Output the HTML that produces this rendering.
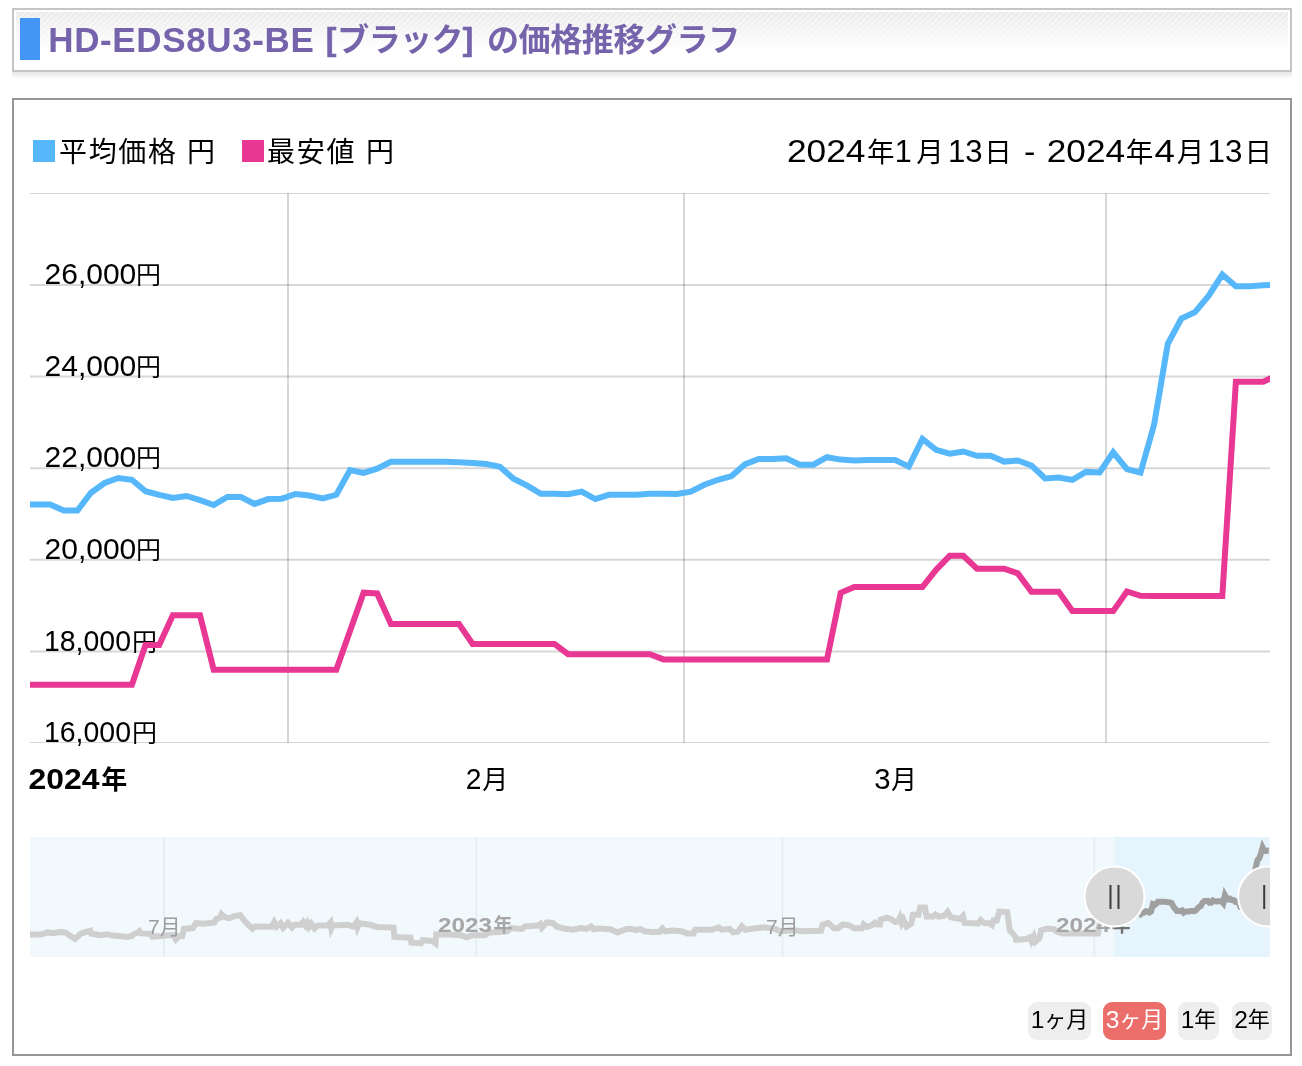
<!DOCTYPE html>
<html lang="ja"><head><meta charset="utf-8"><title>価格推移グラフ</title>
<style>
html,body{margin:0;padding:0;background:#fff}
body{width:1302px;height:1066px;position:relative;overflow:hidden;font-family:"Liberation Sans","Noto Sans CJK JP",sans-serif}
.hd{position:absolute;left:12px;top:8px;width:1276px;height:60px;border:2px solid #c6c6c6;background:#fff;box-sizing:content-box}
.hd .bg{position:absolute;left:2px;top:2px;right:2px;bottom:2px;background:linear-gradient(to bottom,rgba(255,255,255,0) 0,rgba(255,255,255,1) 68%),repeating-linear-gradient(-45deg,#e9e9e9 0,#ebebeb 1.6px,#f3f3f3 2.4px,#f3f3f3 3.6px,#e9e9e9 4.243px)}
.hd .bar{position:absolute;left:6px;top:8px;width:20px;height:42px;background:#4496f6}
.hd h1{position:absolute;left:0;top:0;margin:0;font-size:32px;line-height:60px;font-weight:bold;color:#7563ab;white-space:nowrap}
.hd h1 span{position:absolute;top:0;white-space:nowrap}
.hd h1 .a{left:34.3px;font-size:35px;top:0.3px;letter-spacing:0.62px}
.hd h1 .b{left:314px;letter-spacing:-0.6px}
.hd h1 .b i{font-style:normal;font-size:31px;position:relative;top:-1px;-webkit-text-stroke:0.7px #7563ab}
.hd h1 .b i:first-child{margin-left:-2px;margin-right:1.5px}
.hd h1 .c{left:473px;letter-spacing:-0.4px}
.sh{position:absolute;left:12px;top:72px;width:1280px;height:7px;background:linear-gradient(to bottom,#e6e6e6,#fff)}
.box{position:absolute;left:12px;top:98px;width:1276px;height:954px;border:2px solid #959595}
.btn{position:absolute;top:1002px;height:38px;line-height:36px;border-radius:9px;background:#eee;color:#000;font-size:22px;text-align:center;white-space:nowrap}
.btn.on{background:#ec6e6b;color:#fff}
.btn b{font-weight:normal;font-size:24.5px;line-height:0;position:relative;top:0.5px}
</style></head><body>
<div id="wrap" style="position:absolute;left:0;top:0;width:1302px;height:1066px;will-change:transform">
<div class="hd"><div class="bg"></div><div class="bar"></div><h1><span class="a">HD-EDS8U3-BE </span><span class="b"><i>[</i>ブラック<i>]</i> </span><span class="c">の価格推移グラフ</span></h1></div>
<div class="sh"></div>
<div class="box"></div>
<svg width="1302" height="1066" viewBox="0 0 1302 1066" style="position:absolute;left:0;top:0" font-family='"Liberation Sans","Noto Sans CJK JP",sans-serif'><defs><clipPath id="cp"><rect x="30" y="180" width="1240" height="580"/></clipPath><clipPath id="cg"><rect x="30" y="193" width="1240" height="550"/></clipPath><clipPath id="cn"><rect x="30" y="837" width="1240" height="120"/></clipPath><clipPath id="cu"><rect x="30" y="837" width="1084" height="120"/></clipPath><clipPath id="cs"><rect x="1114" y="837" width="156" height="120"/></clipPath></defs><g stroke="#000" stroke-opacity="0.155" stroke-width="2" clip-path="url(#cg)"><line x1="30" y1="193" x2="1270" y2="193"/><line x1="30" y1="285" x2="1270" y2="285"/><line x1="30" y1="376.6" x2="1270" y2="376.6"/><line x1="30" y1="468.2" x2="1270" y2="468.2"/><line x1="30" y1="559.8" x2="1270" y2="559.8"/><line x1="30" y1="651.4" x2="1270" y2="651.4"/><line x1="30" y1="743" x2="1270" y2="743"/><line x1="288" y1="193" x2="288" y2="743"/><line x1="684" y1="193" x2="684" y2="743"/><line x1="1106" y1="193" x2="1106" y2="743"/></g><text y="284.2" font-weight="normal" fill="#000"><tspan x="44.5" font-size="29.5" textLength="91.8" lengthAdjust="spacingAndGlyphs">26,000</tspan><tspan x="136.0" font-size="25">円</tspan></text><text y="375.8" font-weight="normal" fill="#000"><tspan x="44.5" font-size="29.5" textLength="91.8" lengthAdjust="spacingAndGlyphs">24,000</tspan><tspan x="136.0" font-size="25">円</tspan></text><text y="467.4" font-weight="normal" fill="#000"><tspan x="44.5" font-size="29.5" textLength="91.8" lengthAdjust="spacingAndGlyphs">22,000</tspan><tspan x="136.0" font-size="25">円</tspan></text><text y="559.0" font-weight="normal" fill="#000"><tspan x="44.5" font-size="29.5" textLength="91.8" lengthAdjust="spacingAndGlyphs">20,000</tspan><tspan x="136.0" font-size="25">円</tspan></text><text y="650.6" font-weight="normal" fill="#000"><tspan x="43.9" font-size="29.5" textLength="87.1" lengthAdjust="spacingAndGlyphs">18,000</tspan><tspan x="132.0" font-size="25">円</tspan></text><text y="742.2" font-weight="normal" fill="#000"><tspan x="43.9" font-size="29.5" textLength="87.1" lengthAdjust="spacingAndGlyphs">16,000</tspan><tspan x="132.0" font-size="25">円</tspan></text><g clip-path="url(#cp)" fill="none" stroke-width="6" stroke-linejoin="miter"><polyline stroke="#56b8fa" points="22.9,504.5 36.5,504.5 50.1,504.5 63.7,510.5 77.4,510.5 91.0,492.7 104.6,483.0 118.3,478.0 131.9,479.8 145.5,491.2 159.2,494.8 172.8,498.0 186.4,496.0 200.0,500.2 213.7,505.0 227.3,497.0 240.9,497.0 254.6,503.9 268.2,499.1 281.8,498.7 295.5,494.0 309.1,495.5 322.7,498.5 336.3,494.8 350.0,470.1 363.6,472.9 377.2,468.6 390.9,461.7 404.5,461.7 418.1,461.7 431.8,461.7 445.4,461.7 459.0,462.2 472.6,463.0 486.3,464.1 499.9,466.7 513.5,478.7 527.2,485.6 540.8,493.8 554.4,493.8 568.1,494.2 581.7,491.6 595.3,499.1 608.9,494.8 622.6,494.8 636.2,494.8 649.8,493.8 663.5,493.8 677.1,494.0 690.7,491.6 704.4,484.7 718.0,479.8 731.6,476.1 745.2,464.1 758.9,458.9 772.5,458.9 786.1,458.3 799.8,464.7 813.4,464.7 827.0,457.2 840.7,459.6 854.3,460.5 867.9,460.1 881.5,460.1 895.2,460.1 908.8,466.6 922.4,439.0 936.1,449.8 949.7,453.7 963.3,451.5 977.0,455.8 990.6,455.8 1004.2,461.6 1017.8,460.5 1031.5,465.5 1045.1,478.4 1058.7,477.5 1072.4,479.9 1086.0,471.9 1099.6,472.5 1113.2,452.3 1126.9,469.2 1140.5,472.7 1154.1,424.7 1167.8,343.8 1181.4,318.5 1195.0,312.1 1208.7,295.7 1222.3,274.6 1235.9,286.3 1249.5,286.3 1263.2,285.2 1276.8,284.7"/><polyline stroke="#e83893" points="22.9,684.7 36.5,684.7 50.1,684.7 63.7,684.7 77.4,684.7 91.0,684.7 104.6,684.7 118.3,684.7 131.9,684.7 145.5,645.0 159.2,645.0 172.8,615.3 186.4,615.3 200.0,615.3 213.7,669.7 227.3,669.7 240.9,669.7 254.6,669.7 268.2,669.7 281.8,669.7 295.5,669.7 309.1,669.7 322.7,669.7 336.3,669.7 350.0,631.0 363.6,592.7 377.2,593.5 390.9,624.1 404.5,624.1 418.1,624.1 431.8,624.1 445.4,624.1 459.0,624.1 472.6,643.9 486.3,643.9 499.9,643.9 513.5,643.9 527.2,643.9 540.8,643.9 554.4,643.9 568.1,654.2 581.7,654.2 595.3,654.2 608.9,654.2 622.6,654.2 636.2,654.2 649.8,654.2 663.5,659.4 677.1,659.4 690.7,659.4 704.4,659.4 718.0,659.4 731.6,659.4 745.2,659.4 758.9,659.4 772.5,659.4 786.1,659.4 799.8,659.4 813.4,659.4 827.0,659.4 840.7,592.8 854.3,587.0 867.9,587.0 881.5,587.0 895.2,587.0 908.8,587.0 922.4,587.0 936.1,569.8 949.7,555.8 963.3,555.8 977.0,568.7 990.6,568.7 1004.2,568.7 1017.8,573.4 1031.5,591.7 1045.1,591.7 1058.7,591.7 1072.4,611.1 1086.0,611.1 1099.6,611.1 1113.2,611.1 1126.9,591.5 1140.5,595.8 1154.1,596.1 1167.8,596.1 1181.4,596.1 1195.0,596.1 1208.7,596.1 1222.3,596.1 1235.9,381.8 1249.5,381.8 1263.2,381.8 1276.8,375.4"/></g><rect x="33" y="140" width="22" height="22" fill="#56b8fa"/><text x="59" y="162" font-size="28" fill="#000" textLength="156" lengthAdjust="spacing">平均価格 円</text><rect x="242" y="140" width="22" height="22" fill="#e83893"/><text x="267" y="162" font-size="28" fill="#000" textLength="127" lengthAdjust="spacing">最安値 円</text><text y="162" font-weight="normal" fill="#000"><tspan x="786.9" font-size="30.5" textLength="78.6" lengthAdjust="spacingAndGlyphs">2024</tspan><tspan x="866.9" font-size="27.5">年</tspan><tspan x="894.8" font-size="30.5">1</tspan><tspan x="916.3" font-size="27.5">月</tspan><tspan x="947.9" font-size="30.5" textLength="34.7" lengthAdjust="spacingAndGlyphs">13</tspan><tspan x="984.3" font-size="27.5">日</tspan><tspan> </tspan><tspan x="1023.9" font-size="30.5" textLength="11.4" lengthAdjust="spacingAndGlyphs">-</tspan><tspan> </tspan><tspan x="1046.8" font-size="30.5" textLength="78.3" lengthAdjust="spacingAndGlyphs">2024</tspan><tspan x="1125.8" font-size="27.5">年</tspan><tspan x="1154.6" font-size="30.5" textLength="20.4" lengthAdjust="spacingAndGlyphs">4</tspan><tspan x="1176.7" font-size="27.5">月</tspan><tspan x="1207.6" font-size="30.5" textLength="34.9" lengthAdjust="spacingAndGlyphs">13</tspan><tspan x="1244.6" font-size="27.5">日</tspan></text><text y="789" font-weight="bold" fill="#000"><tspan x="28.4" font-size="29" textLength="71.0" lengthAdjust="spacingAndGlyphs">2024</tspan><tspan x="101.2" font-size="26">年</tspan></text><text y="789" font-weight="normal" fill="#000"><tspan x="465.7" font-size="29.5" textLength="15.7" lengthAdjust="spacingAndGlyphs">2</tspan><tspan x="482.2" font-size="26">月</tspan></text><text y="789" font-weight="normal" fill="#000"><tspan x="874.3" font-size="29.5" textLength="16.3" lengthAdjust="spacingAndGlyphs">3</tspan><tspan x="891.1" font-size="26">月</tspan></text><rect x="30" y="837" width="1240" height="120" fill="#f1f9fd"/><rect x="1114" y="837" width="156" height="120" fill="#e6f4fe"/><g stroke="#000" stroke-opacity="0.045" stroke-width="2"><line x1="164" y1="837" x2="164" y2="957"/><line x1="476.3" y1="837" x2="476.3" y2="957"/><line x1="782.5" y1="837" x2="782.5" y2="957"/><line x1="1094.3" y1="837" x2="1094.3" y2="957"/></g><g clip-path="url(#cu)"><polyline fill="none" stroke="#cfcfcf" stroke-width="6" stroke-linejoin="miter" points="28.0,934.5 37.9,934.5 41.1,934.5 47.6,932.4 54.0,933.2 59.7,932.1 65.3,932.4 69.4,935.3 75.0,938.9 80.6,933.7 85.5,932.1 90.3,930.8 91.1,933.7 96.0,934.5 100.8,935.3 107.3,934.2 112.1,935.6 118.5,936.1 126.6,936.9 131.5,936.1 134.7,933.7 137.9,932.9 139.5,931.2 141.5,933.4 150.0,933.7 152.4,936.6 162.1,936.1 168.5,935.3 173.4,935.3 175.8,939.4 179.0,936.1 182.3,936.1 183.9,928.9 192.7,928.1 196.0,923.2 204.0,923.7 214.5,922.4 216.1,919.2 220.2,917.6 221.5,914.3 224.2,916.8 229.0,918.4 234.7,916.0 240.3,915.2 244.4,920.8 249.2,925.6 252.4,928.7 254.8,926.5 271.8,926.8 274.2,922.1 276.6,926.5 280.6,923.2 283.1,927.8 287.9,922.9 291.9,927.3 294.4,924.8 300.8,924.8 303.2,921.9 305.6,925.6 307.3,922.9 308.9,926.9 311.3,923.7 314.5,928.5 317.7,925.6 328.2,925.3 330.5,922.6 331.4,928.4 333.0,925.0 337.9,925.3 347.6,924.8 353.2,926.5 356.5,922.4 357.6,927.5 359.7,923.2 370.2,924.8 376.6,926.9 393.5,927.6 394.4,936.9 410.5,937.7 411.3,942.6 421.0,943.4 422.6,940.2 432.3,941.0 435.5,943.4 436.3,934.5 449.2,934.5 461.3,935.3 466.9,937.3 471.8,935.3 484.7,935.3 489.5,932.4 502.4,931.8 507.3,931.3 510.5,928.1 521.8,928.9 525.0,926.5 537.9,925.6 540.3,924.0 541.9,927.7 546.8,922.4 553.2,923.2 556.5,926.5 563.7,928.5 573.4,929.7 580.6,928.1 586.3,928.9 591.1,926.5 593.5,929.2 598.4,928.5 610.5,929.2 617.7,932.4 626.6,928.9 631.5,928.9 636.3,930.2 640.3,928.9 644.4,931.3 652.4,932.1 659.7,931.8 662.4,928.4 665.3,931.3 673.4,930.5 681.5,931.3 687.1,933.4 693.5,933.4 695.2,929.7 712.1,929.7 718.5,927.3 721.8,929.7 729.8,928.9 733.1,932.4 737.9,931.8 741.9,926.2 745.2,929.7 754.0,928.5 763.7,927.3 775.0,928.9 779.8,931.3 794.4,930.2 802.4,931.3 821.0,930.8 822.6,924.8 828.2,922.9 833.9,928.2 837.9,928.2 842.7,924.5 849.2,925.3 854.0,928.2 862.1,928.2 863.7,924.5 866.9,926.9 871.8,925.3 875.0,922.6 877.4,924.5 879.8,924.5 880.6,919.5 887.1,917.6 891.9,919.7 895.2,922.1 898.3,921.3 900.0,917.5 901.7,923.0 903.4,919.7 906.5,926.6 911.3,923.5 912.9,914.8 918.5,914.8 920.2,907.6 925.0,907.6 926.6,916.5 933.1,916.5 935.5,914.5 938.7,916.5 944.4,915.6 947.6,911.9 950.8,917.3 959.7,918.9 962.9,916.0 964.5,922.9 978.2,923.4 980.6,920.1 983.9,922.9 989.5,923.4 991.9,925.1 993.5,920.5 996.8,920.5 999.2,911.6 1007.3,912.1 1009.7,930.2 1015.3,936.6 1016.1,939.8 1026.6,939.0 1029.8,937.4 1031.5,941.3 1033.9,936.6 1035.5,941.6 1039.5,938.2 1041.1,930.3 1047.6,928.5 1054.0,929.4 1057.3,931.8 1062.9,933.4 1098.0,933.4 1100.0,922.0 1108.0,916.0 1111.7,914.2 1113.4,914.2 1115.1,914.2 1116.8,916.0 1118.6,916.0 1120.3,910.8 1122.0,908.0 1123.7,906.5 1125.4,907.0 1127.1,910.4 1128.8,911.4 1130.6,912.3 1132.3,911.7 1134.0,913.0 1135.7,914.4 1137.4,912.0 1139.1,912.0 1140.8,914.0 1142.6,912.6 1144.3,912.5 1146.0,911.2 1147.7,911.6 1149.4,912.5 1151.1,911.4 1152.9,904.2 1154.6,905.0 1156.3,903.8 1158.0,901.8 1159.7,901.8 1161.4,901.8 1163.1,901.8 1164.9,901.8 1166.6,901.9 1168.3,902.2 1170.0,902.5 1171.7,903.2 1173.4,906.7 1175.1,908.7 1176.9,911.1 1178.6,911.1 1180.3,911.2 1182.0,910.5 1183.7,912.6 1185.4,911.4 1187.1,911.4 1188.9,911.4 1190.6,911.1 1192.3,911.1 1194.0,911.2 1195.7,910.5 1197.4,908.5 1199.1,907.0 1200.9,906.0 1202.6,902.5 1204.3,901.0 1206.0,901.0 1207.7,900.8 1209.4,902.7 1211.2,902.7 1212.9,900.5 1214.6,901.2 1216.3,901.5 1218.0,901.3 1219.7,901.3 1221.4,901.3 1223.2,903.2 1224.9,895.2 1226.6,898.3 1228.3,899.5 1230.0,898.8 1231.7,900.1 1233.4,900.1 1235.2,901.8 1236.9,901.5 1238.6,902.9 1240.3,906.6 1242.0,906.4 1243.7,907.1 1245.4,904.8 1247.2,904.9 1248.9,899.1 1250.6,904.0 1252.3,905.0 1254.0,891.1 1255.7,867.6 1257.4,860.3 1259.2,858.4 1260.9,853.7 1262.6,847.5 1264.3,850.9 1266.0,850.9 1267.7,850.6 1268.9,850.6"/><text x="148" y="934" font-size="21" fill="#9d9d9d">7月</text><text x="766" y="934" font-size="21" fill="#9d9d9d">7月</text><text y="931.6" font-weight="bold" fill="#a6a6a6"><tspan x="438.0" font-size="20.3" textLength="54.0" lengthAdjust="spacingAndGlyphs">2023</tspan><tspan x="493.4" font-size="19">年</tspan></text><text y="931.6" font-weight="bold" fill="#a6a6a6"><tspan x="1056.1" font-size="20.3" textLength="54.0" lengthAdjust="spacingAndGlyphs">2024</tspan><tspan x="1111.5" font-size="19">年</tspan></text></g><g clip-path="url(#cs)"><polyline fill="none" stroke="#a0a0a0" stroke-width="6" stroke-linejoin="miter" points="28.0,934.5 37.9,934.5 41.1,934.5 47.6,932.4 54.0,933.2 59.7,932.1 65.3,932.4 69.4,935.3 75.0,938.9 80.6,933.7 85.5,932.1 90.3,930.8 91.1,933.7 96.0,934.5 100.8,935.3 107.3,934.2 112.1,935.6 118.5,936.1 126.6,936.9 131.5,936.1 134.7,933.7 137.9,932.9 139.5,931.2 141.5,933.4 150.0,933.7 152.4,936.6 162.1,936.1 168.5,935.3 173.4,935.3 175.8,939.4 179.0,936.1 182.3,936.1 183.9,928.9 192.7,928.1 196.0,923.2 204.0,923.7 214.5,922.4 216.1,919.2 220.2,917.6 221.5,914.3 224.2,916.8 229.0,918.4 234.7,916.0 240.3,915.2 244.4,920.8 249.2,925.6 252.4,928.7 254.8,926.5 271.8,926.8 274.2,922.1 276.6,926.5 280.6,923.2 283.1,927.8 287.9,922.9 291.9,927.3 294.4,924.8 300.8,924.8 303.2,921.9 305.6,925.6 307.3,922.9 308.9,926.9 311.3,923.7 314.5,928.5 317.7,925.6 328.2,925.3 330.5,922.6 331.4,928.4 333.0,925.0 337.9,925.3 347.6,924.8 353.2,926.5 356.5,922.4 357.6,927.5 359.7,923.2 370.2,924.8 376.6,926.9 393.5,927.6 394.4,936.9 410.5,937.7 411.3,942.6 421.0,943.4 422.6,940.2 432.3,941.0 435.5,943.4 436.3,934.5 449.2,934.5 461.3,935.3 466.9,937.3 471.8,935.3 484.7,935.3 489.5,932.4 502.4,931.8 507.3,931.3 510.5,928.1 521.8,928.9 525.0,926.5 537.9,925.6 540.3,924.0 541.9,927.7 546.8,922.4 553.2,923.2 556.5,926.5 563.7,928.5 573.4,929.7 580.6,928.1 586.3,928.9 591.1,926.5 593.5,929.2 598.4,928.5 610.5,929.2 617.7,932.4 626.6,928.9 631.5,928.9 636.3,930.2 640.3,928.9 644.4,931.3 652.4,932.1 659.7,931.8 662.4,928.4 665.3,931.3 673.4,930.5 681.5,931.3 687.1,933.4 693.5,933.4 695.2,929.7 712.1,929.7 718.5,927.3 721.8,929.7 729.8,928.9 733.1,932.4 737.9,931.8 741.9,926.2 745.2,929.7 754.0,928.5 763.7,927.3 775.0,928.9 779.8,931.3 794.4,930.2 802.4,931.3 821.0,930.8 822.6,924.8 828.2,922.9 833.9,928.2 837.9,928.2 842.7,924.5 849.2,925.3 854.0,928.2 862.1,928.2 863.7,924.5 866.9,926.9 871.8,925.3 875.0,922.6 877.4,924.5 879.8,924.5 880.6,919.5 887.1,917.6 891.9,919.7 895.2,922.1 898.3,921.3 900.0,917.5 901.7,923.0 903.4,919.7 906.5,926.6 911.3,923.5 912.9,914.8 918.5,914.8 920.2,907.6 925.0,907.6 926.6,916.5 933.1,916.5 935.5,914.5 938.7,916.5 944.4,915.6 947.6,911.9 950.8,917.3 959.7,918.9 962.9,916.0 964.5,922.9 978.2,923.4 980.6,920.1 983.9,922.9 989.5,923.4 991.9,925.1 993.5,920.5 996.8,920.5 999.2,911.6 1007.3,912.1 1009.7,930.2 1015.3,936.6 1016.1,939.8 1026.6,939.0 1029.8,937.4 1031.5,941.3 1033.9,936.6 1035.5,941.6 1039.5,938.2 1041.1,930.3 1047.6,928.5 1054.0,929.4 1057.3,931.8 1062.9,933.4 1098.0,933.4 1100.0,922.0 1108.0,916.0 1111.7,914.2 1113.4,914.2 1115.1,914.2 1116.8,916.0 1118.6,916.0 1120.3,910.8 1122.0,908.0 1123.7,906.5 1125.4,907.0 1127.1,910.4 1128.8,911.4 1130.6,912.3 1132.3,911.7 1134.0,913.0 1135.7,914.4 1137.4,912.0 1139.1,912.0 1140.8,914.0 1142.6,912.6 1144.3,912.5 1146.0,911.2 1147.7,911.6 1149.4,912.5 1151.1,911.4 1152.9,904.2 1154.6,905.0 1156.3,903.8 1158.0,901.8 1159.7,901.8 1161.4,901.8 1163.1,901.8 1164.9,901.8 1166.6,901.9 1168.3,902.2 1170.0,902.5 1171.7,903.2 1173.4,906.7 1175.1,908.7 1176.9,911.1 1178.6,911.1 1180.3,911.2 1182.0,910.5 1183.7,912.6 1185.4,911.4 1187.1,911.4 1188.9,911.4 1190.6,911.1 1192.3,911.1 1194.0,911.2 1195.7,910.5 1197.4,908.5 1199.1,907.0 1200.9,906.0 1202.6,902.5 1204.3,901.0 1206.0,901.0 1207.7,900.8 1209.4,902.7 1211.2,902.7 1212.9,900.5 1214.6,901.2 1216.3,901.5 1218.0,901.3 1219.7,901.3 1221.4,901.3 1223.2,903.2 1224.9,895.2 1226.6,898.3 1228.3,899.5 1230.0,898.8 1231.7,900.1 1233.4,900.1 1235.2,901.8 1236.9,901.5 1238.6,902.9 1240.3,906.6 1242.0,906.4 1243.7,907.1 1245.4,904.8 1247.2,904.9 1248.9,899.1 1250.6,904.0 1252.3,905.0 1254.0,891.1 1255.7,867.6 1257.4,860.3 1259.2,858.4 1260.9,853.7 1262.6,847.5 1264.3,850.9 1266.0,850.9 1267.7,850.6 1268.9,850.6"/><text x="148" y="934" font-size="21" fill="#6b6b6b">7月</text><text x="766" y="934" font-size="21" fill="#6b6b6b">7月</text><text y="931.6" font-weight="bold" fill="#707070"><tspan x="438.0" font-size="20.3" textLength="54.0" lengthAdjust="spacingAndGlyphs">2023</tspan><tspan x="493.4" font-size="19">年</tspan></text><text y="931.6" font-weight="bold" fill="#707070"><tspan x="1056.1" font-size="20.3" textLength="54.0" lengthAdjust="spacingAndGlyphs">2024</tspan><tspan x="1111.5" font-size="19">年</tspan></text></g><g clip-path="url(#cn)"><circle cx="1114.5" cy="896.5" r="30" fill="#d9d9d9" stroke="#fff" stroke-width="2"/><path d="M1110.5 885V909M1118.5 885V909" stroke="#3c3c3c" stroke-width="2" fill="none"/><circle cx="1268.2" cy="896.5" r="30" fill="#d9d9d9" stroke="#fff" stroke-width="2"/><path d="M1264.2 885V909M1272.2 885V909" stroke="#3c3c3c" stroke-width="2" fill="none"/></g></svg>
<div class="btn" style="left:1028px;width:63px"><b>1</b>ヶ月</div>
<div class="btn on" style="left:1103px;width:63px"><b>3</b>ヶ月</div>
<div class="btn" style="left:1178px;width:41px"><b>1</b>年</div>
<div class="btn" style="left:1232px;width:40px"><b>2</b>年</div>
</div>
</body></html>
